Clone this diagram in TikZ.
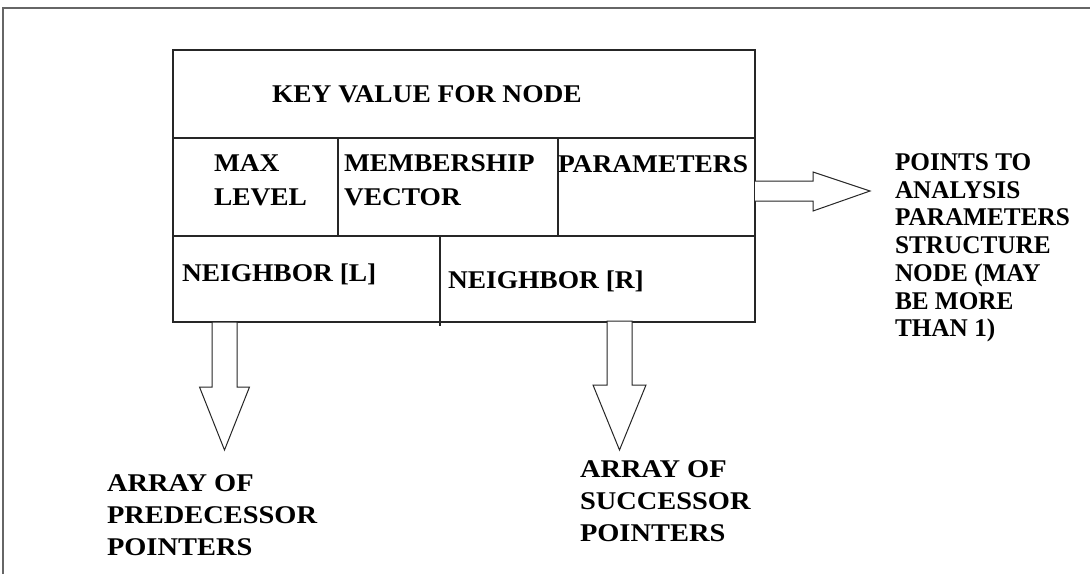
\documentclass[tikz,border=0pt]{standalone}
\usepackage{fontspec}
\setmainfont{Liberation Serif}
\begin{document}
\begin{tikzpicture}[x=1pt,y=-1pt,line join=miter,
  cell/.style={draw=black!85,line width=1.1pt,inner sep=0pt,outer sep=0pt,anchor=north west},
  basetxt/.style={inner sep=0pt,outer sep=0pt,align=left,transform shape},
  lbl/.style={basetxt,font=\bfseries\fontsize{25.5}{34}\selectfont,xscale=1.076},
  sidelbl/.style={basetxt,font=\bfseries\fontsize{25.5}{27.7}\selectfont,xscale=0.99},
  botlbl/.style={basetxt,font=\bfseries\fontsize{25.5}{32}\selectfont,xscale=1.115},
  blk/.style={draw=black!85,line width=1pt,fill=white}]
\useasboundingbox (0,0) rectangle (1090,574);
\fill[white] (0,0) rectangle (1090,574);
\coordinate (fa) at (3,574);
\coordinate (fb) at (3,8);
\coordinate (fc) at (1090,8);
\draw[line width=1.6pt,black!60] (fa) -- (fb) -- (fc);
% cells
\node[cell,minimum width=582pt,minimum height=88pt] (keycell) at (173,50) {};
\node[cell,minimum width=165pt,minimum height=98pt] (maxcell) at (173,138) {};
\node[cell,minimum width=220pt,minimum height=98pt] (memcell) at (338,138) {};
\node[cell,minimum width=197pt,minimum height=98pt] (parcell) at (558,138) {};
\node[cell,minimum width=267pt,minimum height=86pt] (lcell) at (173,236) {};
\node[cell,minimum width=315pt,minimum height=86pt] (rcell) at (440,236) {};
\coordinate (divtail) at (440,326);
\draw[draw=black!85,line width=1.1pt] (rcell.south west) -- (divtail);
% texts
\node[lbl,anchor=base west] (keytxt) at (272,102) {KEY VALUE FOR NODE};
\node[lbl,anchor=north west] (maxtxt) at (214,154.7) {MAX\\LEVEL};
\node[lbl,anchor=north west] (memtxt) at (344,154.7) {MEMBERSHIP\\VECTOR};
\node[lbl,anchor=base west] (partxt) at (558,172) {PARAMETERS};
\node[lbl,anchor=base west] (ltxt) at (182,281) {NEIGHBOR [L]};
\node[lbl,anchor=base west] (rtxt) at (448,288) {NEIGHBOR [R]};
\node[sidelbl,anchor=north west] (sidetxt) at (895,153.7) {POINTS TO\\ANALYSIS\\PARAMETERS\\STRUCTURE\\NODE (MAY\\BE MORE\\THAN 1)};
\node[botlbl,anchor=north west] (predtxt) at (107,474.7) {ARRAY OF\\PREDECESSOR\\POINTERS};
\node[botlbl,anchor=north west] (succtxt) at (580,460.7) {ARRAY OF\\SUCCESSOR\\POINTERS};
% block arrows
\coordinate (ra) at (755,191);
\draw[blk] (ra) ++(0,-10) -- ++(58,0) -- ++(0,-9) -- ++(57,19) -- ++(-57,20) -- ++(0,-10) -- ++(-58,0);
\coordinate (la) at (224.5,322);
\draw[blk] (la) ++(-12.5,0) -- ++(0,65) -- ++(-12.5,0) -- ++(25,63) -- ++(25,-63) -- ++(-12.5,0) -- ++(0,-65) -- cycle;
\coordinate (rb) at (619.5,321);
\draw[blk] (rb) ++(-12.5,0) -- ++(0,64) -- ++(-14,0) -- ++(26.5,65) -- ++(26.5,-65) -- ++(-14,0) -- ++(0,-64) -- cycle;
\end{tikzpicture}
\end{document}
